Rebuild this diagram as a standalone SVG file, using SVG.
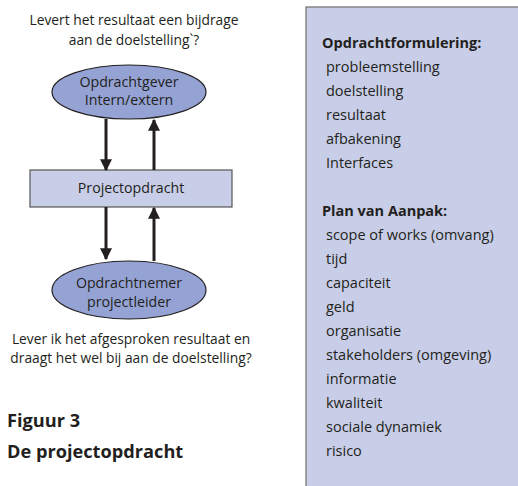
<svg xmlns="http://www.w3.org/2000/svg" width="518" height="486" viewBox="0 0 518 486">
<defs>
<marker id="ah" viewBox="0 0 10 10" refX="9" refY="5" markerWidth="4" markerHeight="4.2" orient="auto" markerUnits="strokeWidth">
<path d="M0,0 L10,5 L0,10 z" fill="#231f20"/>
</marker>
</defs>
<style>
text{font-family:"Open Sans","Noto Sans","Liberation Sans",sans-serif;fill:#231f20}
.q{font-size:13.8px}
.n{font-size:14.2px}
.l{font-size:14.5px}
.b{font-weight:bold}
.t{font-size:18.2px;font-weight:bold}
.ell{fill:#95a3d4;stroke:#231f20;stroke-width:1.2}
.box{fill:#c8cee7;stroke:#555;stroke-width:1.2}
.c{stroke:#231f20;stroke-width:3;fill:none;marker-end:url(#ah)}
</style>
<rect width="518" height="486" fill="#fff"/>
<g id="panel">
<rect x="306" y="7" width="214" height="482" fill="#c8cee7" stroke="#777" stroke-width="1.3"/>
<text class="l b" x="322" y="48">Opdrachtformulering:</text>
<text class="l" x="326" y="72">probleemstelling</text>
<text class="l" x="326" y="96">doelstelling</text>
<text class="l" x="326" y="120">resultaat</text>
<text class="l" x="326" y="144">afbakening</text>
<text class="l" x="326" y="168">Interfaces</text>
<text class="l b" x="322" y="216">Plan van Aanpak:</text>
<text class="l" x="326" y="240">scope of works (omvang)</text>
<text class="l" x="326" y="264">tijd</text>
<text class="l" x="326" y="288">capaciteit</text>
<text class="l" x="326" y="312">geld</text>
<text class="l" x="326" y="336">organisatie</text>
<text class="l" x="326" y="360">stakeholders (omgeving)</text>
<text class="l" x="326" y="384">informatie</text>
<text class="l" x="326" y="408">kwaliteit</text>
<text class="l" x="326" y="432">sociale dynamiek</text>
<text class="l" x="326" y="456">risico</text>
</g>
<g id="question-top">
<text class="q" x="134" y="25" text-anchor="middle">Levert het resultaat een bijdrage</text>
<text class="q" x="134" y="45" text-anchor="middle">aan de doelstelling`?</text>
</g>
<g id="opdrachtgever">
<ellipse class="ell" cx="129" cy="92" rx="77" ry="27"/>
<text class="n" x="129" y="87" text-anchor="middle">Opdrachtgever</text>
<text class="n" x="129" y="105" text-anchor="middle">Intern/extern</text>
</g>
<g id="projectopdracht">
<rect class="box" x="30" y="170" width="202" height="37"/>
<text class="n" x="131" y="193" text-anchor="middle">Projectopdracht</text>
</g>
<g id="opdrachtnemer">
<ellipse class="ell" cx="129" cy="290" rx="77" ry="29"/>
<text class="n" x="129" y="288" text-anchor="middle">Opdrachtnemer</text>
<text class="n" x="129" y="307" text-anchor="middle">projectleider</text>
</g>
<g id="question-bottom">
<text class="q" x="131" y="344" text-anchor="middle">Lever ik het afgesproken resultaat en</text>
<text class="q" x="131" y="363" text-anchor="middle">draagt het wel bij aan de doelstelling?</text>
</g>
<g id="caption">
<text class="t" x="7" y="427">Figuur 3</text>
<text class="t" x="7" y="458">De projectopdracht</text>
</g>
<g id="connectors">
<line class="c" x1="106" y1="119" x2="106" y2="170"/>
<line class="c" x1="154" y1="170" x2="154" y2="120"/>
<line class="c" x1="106" y1="207" x2="106" y2="259"/>
<line class="c" x1="154" y1="261" x2="154" y2="208"/>
</g>
</svg>
